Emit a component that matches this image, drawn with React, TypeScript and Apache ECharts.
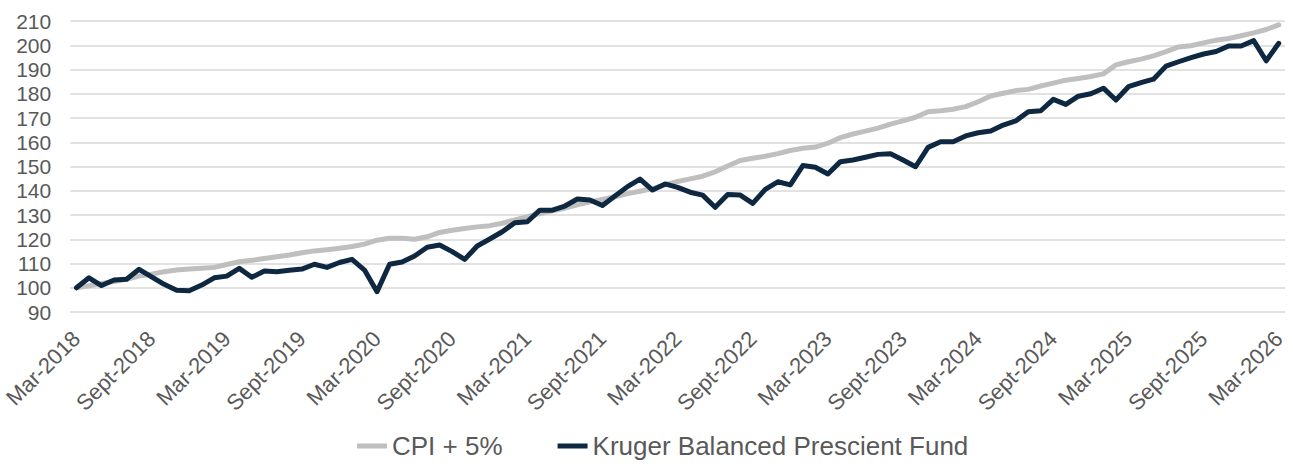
import React, { useEffect, useRef } from "react";
import * as echarts from "echarts";

const MONTHS = ["Jan", "Feb", "Mar", "Apr", "May", "Jun", "Jul", "Aug", "Sept", "Oct", "Nov", "Dec"];
const START_YEAR = 2018;
const START_MONTH = 2; // March
const POINT_COUNT = 97;

const categories: string[] = [];
for (let i = 0; i < POINT_COUNT; i++) {
  const m = (START_MONTH + i) % 12;
  const y = START_YEAR + Math.floor((START_MONTH + i) / 12);
  categories.push(`${MONTHS[m]}-${y}`);
}

const cpiPlus5 = [
  100, 100.8, 101.8, 102.6, 103.5, 104.8, 105.6, 106.6, 107.3, 107.7,
  108.0, 108.4, 109.6, 110.7, 111.3, 112.1, 112.8, 113.5, 114.4, 115.2,
  115.7, 116.3, 117.0, 118.0, 119.6, 120.4, 120.4, 120.0, 121.0, 122.8,
  123.7, 124.4, 125.1, 125.6, 126.6, 128.0, 129.3, 130.6, 131.7, 132.8,
  134.2, 135.4, 136.4, 137.5, 138.8, 139.8, 140.9, 142.4, 143.8, 144.9,
  146.0, 147.8, 150.2, 152.5, 153.4, 154.2, 155.3, 156.6, 157.5, 158.0,
  159.6, 161.9, 163.4, 164.6, 165.8, 167.5, 168.8, 170.3, 172.6, 173.0,
  173.6, 174.7, 176.7, 179.1, 180.2, 181.3, 181.8, 183.2, 184.4, 185.6,
  186.3, 187.1, 188.2, 191.9, 193.2, 194.3, 195.6, 197.4, 199.3, 199.8,
  201.0, 202.1, 202.8, 203.9, 205.1, 206.5, 208.4,
];

const krugerBalanced = [
  100, 104.1, 100.9, 103.2, 103.5, 107.6, 104.5, 101.4, 99.0, 98.8,
  101.1, 104.1, 104.8, 108.0, 104.3, 106.9, 106.6, 107.2, 107.7, 109.7,
  108.4, 110.4, 111.7, 107.3, 98.4, 109.7, 110.6, 113.1, 116.7, 117.6,
  114.9, 111.7, 117.2, 120.1, 123.1, 126.8, 127.2, 132.0, 132.0, 133.7,
  136.6, 136.2, 133.9, 137.8, 141.7, 144.8, 140.3, 142.8, 141.4, 139.4,
  138.2, 133.2, 138.5, 138.2, 134.8, 140.6, 143.7, 142.4, 150.4, 149.7,
  146.9, 152.0, 152.7, 153.8, 155.0, 155.3, 152.7, 149.9, 157.9, 160.2,
  160.2, 162.6, 163.9, 164.6, 167.1, 168.8, 172.6, 173.0, 177.7, 175.6,
  179.0, 180.0, 182.3, 177.4, 182.9, 184.6, 186.0, 191.4, 193.2, 194.9,
  196.4, 197.4, 199.7, 199.7, 201.9, 193.6, 200.8,
];

const SERIES_NAMES = ["CPI + 5%", "Kruger Balanced Prescient Fund"];
const Y_MIN = 90;
const Y_MAX = 210;
const Y_STEP = 10;

export default function App() {
  const ref = useRef<HTMLDivElement>(null);
  useEffect(() => {
    if (!ref.current) return;
    const chart = echarts.init(ref.current, null, { renderer: "svg" });
    const font = "Liberation Sans, Arial, sans-serif";
    chart.setOption({
      animation: false,
      backgroundColor: "#ffffff",
      grid: { left: 68, right: 8, top: 21, bottom: 152, containLabel: false },
      legend: {
        bottom: 0,
        left: 352,
        itemGap: 55,
        itemWidth: 30,
        itemHeight: 5,
        icon: "rect",
        textStyle: { fontFamily: font, fontSize: 26, color: "#595959" },
        data: SERIES_NAMES,
      },
      xAxis: {
        type: "category",
        data: categories,
        boundaryGap: true,
        axisLine: { show: false },
        axisTick: { show: false },
        axisLabel: {
          interval: 5,
          rotate: 45,
          margin: 23,
          fontFamily: font,
          fontSize: 22,
          color: "#595959",
        },
        splitLine: { show: false },
      },
      yAxis: {
        type: "value",
        min: Y_MIN,
        max: Y_MAX,
        interval: Y_STEP,
        axisLine: { show: false },
        axisTick: { show: false },
        axisLabel: { margin: 19, fontFamily: font, fontSize: 21, color: "#595959" },
        splitLine: { show: true, lineStyle: { color: "#d9d9d9", width: 1.5 } },
      },
      series: [
        {
          name: SERIES_NAMES[0],
          type: "line",
          data: cpiPlus5,
          showSymbol: false,
          symbol: "none",
          color: "#bfbfbf",
          lineStyle: { color: "#bfbfbf", width: 5, cap: "round", join: "round" },
        },
        {
          name: SERIES_NAMES[1],
          type: "line",
          data: krugerBalanced,
          showSymbol: false,
          symbol: "none",
          color: "#0e2841",
          lineStyle: { color: "#0e2841", width: 5, cap: "round", join: "round" },
        },
      ],
    });
    return () => chart.dispose();
  }, []);
  return (
    <div
      ref={ref}
      style={{ position: "fixed", left: 0, top: 0, width: 1293, height: 464 }}
    />
  );
}
